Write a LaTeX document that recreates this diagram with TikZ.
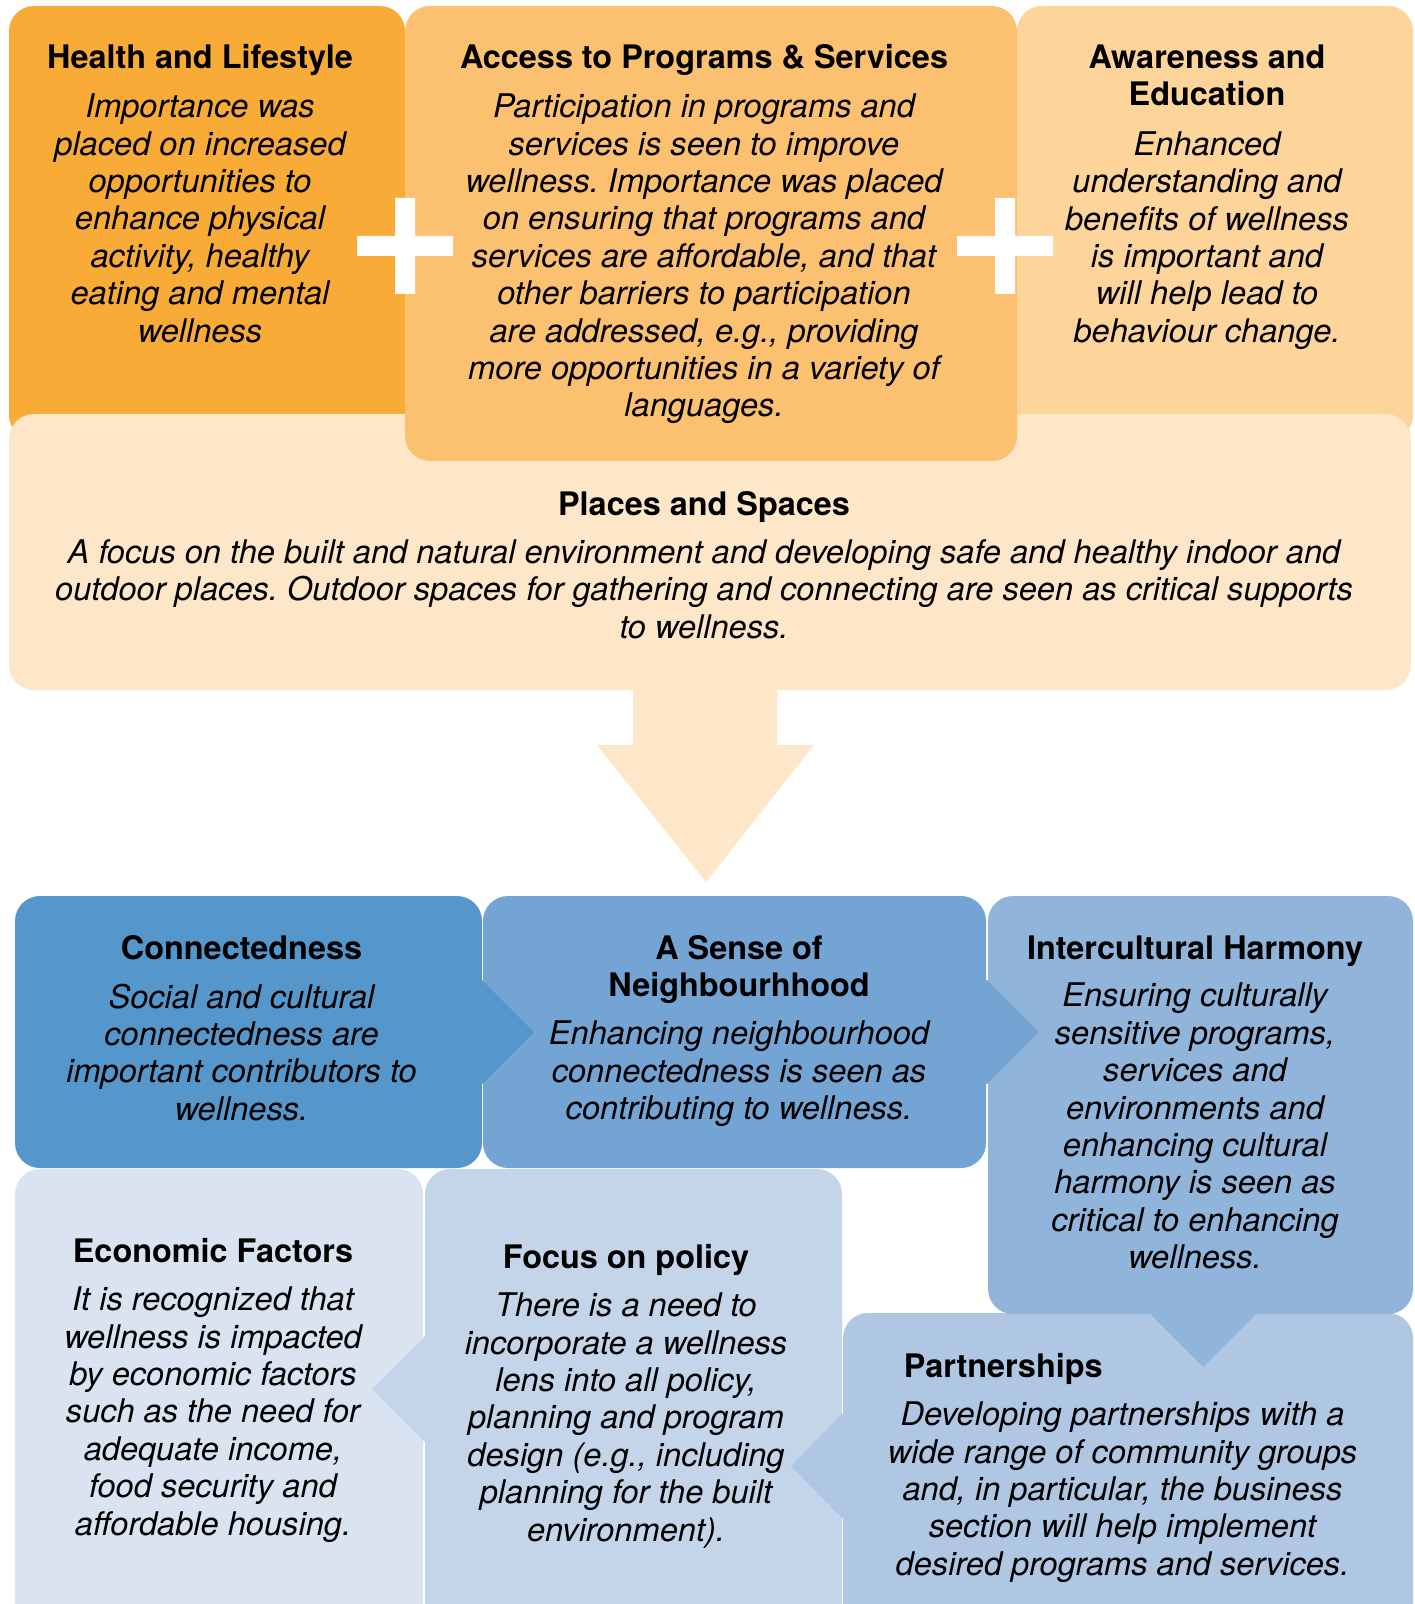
\documentclass[tikz,border=0pt]{standalone}
\usepackage{fontspec}
\setmainfont{TeX Gyre Heros}
\usetikzlibrary{positioning}
\frenchspacing
\definecolor{health}{HTML}{F8AC37}
\definecolor{access}{HTML}{FCC170}
\definecolor{aware}{HTML}{FDD499}
\definecolor{places}{HTML}{FEE6C8}
\definecolor{connect}{HTML}{5597CA}
\definecolor{neigh}{HTML}{74A4D3}
\definecolor{harmony}{HTML}{91B4DA}
\definecolor{partner}{HTML}{AFC7E3}
\definecolor{policy}{HTML}{C4D5EA}
\definecolor{econ}{HTML}{DAE4F1}
\tikzset{
	box/.style={rounded corners=12.5pt},
	ttl/.style={font=\fontsize{16.2}{18.7}\selectfont\bfseries, align=center, inner sep=0pt, text depth=0pt},
	txt/.style={font=\fontsize{16.3}{18.7}\selectfont\itshape, align=center, inner sep=0pt, text depth=0pt},
	plus/.style={fill=white},
}
\begin{document}
\begin{tikzpicture}[x=0.5pt,y=-0.5pt]
	\useasboundingbox (0,0) rectangle (1414,1604);
	\clip (0,0) rectangle (1414,1604);
	% top: three orange boxes over the places box
	\fill [health, box] (9,6) rectangle (405,440);
	\fill [aware, box] (1017,6) rectangle (1413,440);
	\fill [places, box] (9,414) rectangle (1411,690);
	\fill [access, box] (405,6) rectangle (1017,461);
	\fill [plus] (357,236) rectangle (453,256) (395,198) rectangle (415,294);
	\fill [plus] (957,236) rectangle (1053,256) (995,198) rectangle (1015,294);
	\fill [places] (633,670) -- (633,745) -- (597,745) -- (706,882) -- (814,745) -- (777,745) -- (777,670) -- cycle;
	\node [ttl] (health) at (200,56) {Health and Lifestyle};
	\node [txt] (health-txt) at (200,218) {Importance was\\placed on increased\\opportunities to\\enhance physical\\activity, healthy\\eating and mental\\wellness};
	\node [ttl] (access) at (704,56) {Access to Programs \& Services};
	\node [txt] (access-txt) at (704,255.5) {Participation in programs and\\services is seen to improve\\wellness. Importance was placed\\on ensuring that programs and\\services are affordable, and that\\other barriers to participation\\are addressed, e.g., providing\\more opportunities in a variety of\\languages.};
	\node [ttl] (aware) at (1207,75) {Awareness and\\Education};
	\node [txt] (aware-txt) at (1207,237) {Enhanced\\understanding and\\benefits of wellness\\is important and\\will help lead to\\behaviour change.};
	\node [ttl] (places) at (704,503) {Places and Spaces};
	\node [txt] (places-txt) at (704,589) {A focus on the built and natural environment and developing safe and healthy indoor and\\outdoor places. Outdoor spaces for gathering and connecting are seen as critical supports\\to wellness.};
	% bottom: blue boxes with arrow tabs
	\fill [partner, box] (843,1313) rectangle (1413,1650);
	\fill [harmony, box] (988,896) rectangle (1413,1314);
	\fill [harmony] (1150,1300) -- (1150,1314) -- (1203,1367) -- (1256,1314) -- (1256,1300) -- cycle;
	\fill [neigh, box] (483,896) rectangle (986,1168);
	\fill [neigh] (975,980) -- (987,980) -- (1039,1032) -- (987,1084) -- (975,1084) -- cycle;
	\fill [connect, box] (15,896) rectangle (482,1168);
	\fill [connect] (470,980) -- (482,980) -- (534,1032) -- (482,1084) -- (470,1084) -- cycle;
	\fill [econ, box] (15,1169) rectangle (423,1650);
	\fill [policy, box] (425,1169) rectangle (842,1650);
	\fill [policy] (438,1336) -- (425,1336) -- (372,1389) -- (425,1442) -- (438,1442) -- cycle;
	\fill [partner] (856,1413) -- (843,1413) -- (791,1466) -- (843,1519) -- (856,1519) -- cycle;
	\node [ttl] (connect) at (241.5,947.5) {Connectedness};
	\node [txt] (connect-txt) at (241.5,1052) {Social and cultural\\connectedness are\\important contributors to\\wellness.};
	\node [ttl] (neigh) at (739,966) {A Sense of\\Neighbourhhood};
	\node [txt] (neigh-txt) at (739,1070.5) {Enhancing neighbourhood\\connectedness is seen as\\contributing to wellness.};
	\node [ttl] (harmony) at (1195,947.5) {Intercultural Harmony};
	\node [txt] (harmony-txt) at (1195,1126) {Ensuring culturally\\sensitive programs,\\services and\\environments and\\enhancing cultural\\harmony is seen as\\critical to enhancing\\wellness.};
	\node [ttl] (econ) at (213,1250) {Economic Factors};
	\node [txt] (econ-txt) at (213,1411) {It is recognized that\\wellness is impacted\\by economic factors\\such as the need for\\adequate income,\\food security and\\affordable housing.};
	\node [ttl] (policy) at (626,1256.5) {Focus on policy};
	\node [txt] (policy-txt) at (626,1417) {There is a need to\\incorporate a wellness\\lens into all policy,\\planning and program\\design (e.g., including\\planning for the built\\environment).};
	\node [ttl, anchor=west] (partner) at (903.5,1365) {Partnerships};
	\node [txt] (partner-txt) at (1122.5,1488.5) {Developing partnerships with a\\wide range of community groups\\and, in particular, the business\\section will help implement\\desired programs and services.};
\end{tikzpicture}
\end{document}
